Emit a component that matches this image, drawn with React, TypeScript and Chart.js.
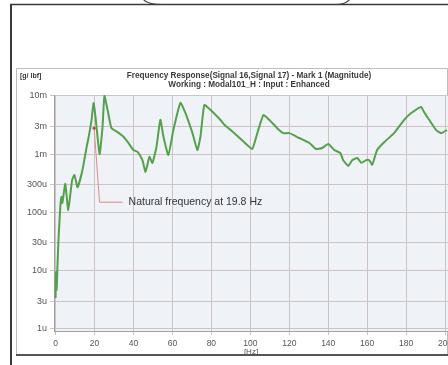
import React, { useEffect, useRef } from "react";
import { Chart, registerables } from "chart.js";

Chart.register(...registerables);

// ---------- data ----------
const freqHz = [
  0.0, 0.3, 0.6, 0.9, 1.5, 2.0, 2.5, 3.0, 3.5, 5.0, 6.5, 8.5, 9.7, 11.3, 13.8,
  15.9, 16.9, 18.5, 19.5, 20.5, 22.6, 24.1, 25.1, 26.7, 28.7, 31.8, 34.9, 37.4,
  40.0, 42.1, 44.6, 46.2, 48.2, 49.7, 51.8, 53.8, 55.4, 57.9, 60.5, 64.1, 66.7,
  70.3, 72.8, 74.4, 76.4, 79.5, 84.6, 86.7, 91.8, 96.9, 101.0, 103.6, 106.7,
  109.7, 113.8, 116.9, 120.0, 125.1, 130.3, 133.8, 136.9, 140.0, 143.1, 146.2,
  147.7, 150.3, 152.3, 154.9, 157.0, 159.5, 161.0, 162.6, 165.1, 168.7, 173.8,
  179.0, 182.6, 187.7, 189.2, 191.8, 195.4, 198.0, 201.0,
];
const magnitude = [
  3.4e-6, 9.5e-6, 4.7e-6, 1.0e-5, 3.4e-5, 6.9e-5, 1.35e-4, 1.85e-4, 1.45e-4,
  3.1e-4, 1.1e-4, 3.6e-4, 4.4e-4, 2.7e-4, 5.3e-4, 1.3e-3, 1.9e-3, 3.9e-3,
  7.6e-3, 4.4e-3, 1.0e-3, 2.9e-3, 1.0e-2, 5.8e-3, 2.8e-3, 2.4e-3, 2.0e-3,
  1.56e-3, 1.18e-3, 1.1e-3, 7.9e-4, 5.0e-4, 9.0e-4, 7.1e-4, 1.33e-3, 3.9e-3,
  2.0e-3, 9.7e-4, 2.6e-3, 7.6e-3, 5.1e-3, 2.3e-3, 1.18e-3, 2.0e-3, 7.0e-3,
  5.8e-3, 3.9e-3, 3.2e-3, 2.3e-3, 1.6e-3, 1.23e-3, 2.3e-3, 4.7e-3, 3.9e-3,
  2.8e-3, 2.3e-3, 2.3e-3, 1.9e-3, 1.56e-3, 1.23e-3, 1.28e-3, 1.5e-3, 1.18e-3,
  1.05e-3, 7.9e-4, 6.3e-4, 7.9e-4, 8.6e-4, 7.1e-4, 7.9e-4, 7.9e-4, 6.6e-4,
  1.18e-3, 1.6e-3, 2.3e-3, 3.9e-3, 5.1e-3, 6.5e-3, 5.3e-3, 3.9e-3, 2.6e-3,
  2.3e-3, 2.6e-3,
];
const xTickValues = [0, 20, 40, 60, 80, 100, 120, 140, 160, 180, 200];
const yTickValues = [1e-6, 3e-6, 1e-5, 3e-5, 1e-4, 3e-4, 1e-3, 3e-3, 1e-2];
const yTickLabels = ["1u", "3u", "10u", "30u", "100u", "300u", "1m", "3m", "10m"];
const titleLines = [
  "Frequency Response(Signal 16,Signal 17) - Mark 1 (Magnitude)",
  "Working : Modal101_H : Input : Enhanced",
];
const yUnit = "[g/ lbf]";
const xUnit = "[Hz]";
const annotationText = "Natural frequency at 19.8 Hz";
const markerFreq = 19.8;
const markerMag = 2.8e-3;
const elbowFreq = 22.6;
const elbowMag = 1.5e-4;
const leaderEndFreq = 34.4;

const FONT = "'Liberation Sans', Arial, sans-serif";

const framePlugin = {
  id: "frame",
  beforeDraw(chart: any) {
    const { ctx, chartArea } = chart;
    const W = chart.width;
    const H = chart.height;
    ctx.save();
    ctx.fillStyle = "#ffffff";
    ctx.fillRect(0, 0, W, H);
    // bubble bottom at top
    ctx.strokeStyle = "#3a3a3a";
    ctx.lineWidth = 1.2;
    ctx.beginPath();
    ctx.moveTo(143, -1);
    ctx.quadraticCurveTo(147, 4.5, 162, 4.5);
    ctx.lineTo(336, 4.5);
    ctx.quadraticCurveTo(346, 4.5, 350, -1);
    ctx.stroke();
    // top line
    ctx.lineWidth = 1.6;
    ctx.beginPath();
    ctx.moveTo(10, 4.5);
    ctx.lineTo(W, 4.5);
    ctx.stroke();
    // left line
    ctx.lineWidth = 2;
    ctx.beginPath();
    ctx.moveTo(11, 4);
    ctx.lineTo(11, H);
    ctx.stroke();
    // inner box
    ctx.strokeStyle = "#bdbdbd";
    ctx.lineWidth = 1;
    ctx.beginPath();
    ctx.moveTo(16.5, 355);
    ctx.lineTo(16.5, 68.5);
    ctx.lineTo(447.5, 68.5);
    ctx.lineTo(447.5, 355);
    ctx.stroke();
    ctx.strokeStyle = "#555555";
    ctx.lineWidth = 2;
    ctx.beginPath();
    ctx.moveTo(16, 355);
    ctx.lineTo(W, 355);
    ctx.stroke();
    // plot background
    ctx.fillStyle = "#eff3f7";
    ctx.fillRect(
      chartArea.left,
      chartArea.top,
      chartArea.right - chartArea.left,
      chartArea.bottom - chartArea.top
    );
    ctx.restore();
  },
  afterDraw(chart: any) {
    const { ctx, chartArea, scales } = chart;
    const xs = scales.x;
    const ys = scales.y;
    ctx.save();
    // titles
    ctx.fillStyle = "#3a3a3a";
    ctx.textAlign = "center";
    ctx.textBaseline = "middle";
    ctx.font = `bold 8.2px ${FONT}`;
    const cx = (chartArea.left + chartArea.right) / 2 - 2;
    ctx.fillText(titleLines[0], cx, 76);
    ctx.fillText(titleLines[1], cx, 84.5);
    ctx.textAlign = "left";
    ctx.font = `bold 7px ${FONT}`;
    ctx.fillText(yUnit, 20, 76);
    // annotation
    const mx = xs.getPixelForValue(markerFreq);
    const my = ys.getPixelForValue(markerMag);
    const ex = xs.getPixelForValue(elbowFreq);
    const ey = ys.getPixelForValue(elbowMag);
    const lx = xs.getPixelForValue(leaderEndFreq);
    ctx.strokeStyle = "#e08a8a";
    ctx.lineWidth = 1;
    ctx.beginPath();
    ctx.moveTo(mx, my);
    ctx.lineTo(ex, ey);
    ctx.lineTo(lx, ey);
    ctx.stroke();
    ctx.fillStyle = "#d04040";
    ctx.beginPath();
    ctx.arc(mx, my, 1.6, 0, Math.PI * 2);
    ctx.fill();
    ctx.fillStyle = "#333333";
    ctx.font = `10.5px ${FONT}`;
    ctx.textBaseline = "middle";
    ctx.fillText(annotationText, lx + 6, ey);
    ctx.restore();
  },
};

function yLabel(v: number): string {
  const i = yTickValues.findIndex(
    (t) => Math.abs(Math.log10(t) - Math.log10(v)) < 1e-6
  );
  return i >= 0 ? yTickLabels[i] : "";
}

export default function App() {
  const ref = useRef<HTMLCanvasElement | null>(null);

  useEffect(() => {
    if (!ref.current) return;
    const chart = new Chart(ref.current, {
      type: "line",
      data: {
        datasets: [
          {
            data: freqHz.map((f, i) => ({ x: f, y: magnitude[i] })),
            borderColor: "#55a04c",
            borderWidth: 2,
            pointRadius: 0,
            tension: 0.15,
            fill: false,
          },
        ],
      },
      options: {
        animation: false,
        responsive: false,
        devicePixelRatio: 1,
        layout: { padding: { top: 95, left: 0, right: 0, bottom: 0 } },
        plugins: {
          legend: { display: false },
          title: { display: false },
          tooltip: { enabled: false },
        },
        scales: {
          x: {
            type: "linear",
            min: -0.8,
            max: 201.5,
            afterBuildTicks: (s: any) => {
              s.ticks = xTickValues.map((v) => ({ value: v }));
            },
            afterFit: (s: any) => {
              s.height = 34;
              s.paddingLeft = 0;
              s.paddingRight = 0;
            },
            ticks: {
              color: "#555555",
              font: { family: FONT, size: 8.5 },
              padding: 4,
              maxRotation: 0,
              autoSkip: false,
            },
            grid: {
              color: "#cdc3c3",
              lineWidth: 1,
              tickLength: 4,
              drawTicks: true,
            },
            border: { display: true, color: "#a0a0a0" },
            title: {
              display: true,
              text: xUnit,
              color: "#555555",
              font: { family: FONT, size: 8 },
              padding: { top: 0, bottom: 8 },
            },
          },
          y: {
            type: "logarithmic",
            min: 0.92e-6,
            max: 0.0104,
            afterBuildTicks: (s: any) => {
              s.ticks = yTickValues.map((v) => ({ value: v, major: true }));
            },
            afterFit: (s: any) => {
              s.width = 54;
              s.paddingTop = 0;
              s.paddingBottom = 0;
            },
            ticks: {
              color: "#555555",
              font: { family: FONT, size: 9 },
              padding: 3,
              autoSkip: false,
              callback: (v: any) => yLabel(Number(v)),
            },
            grid: {
              color: "#cdc3c3",
              lineWidth: 1,
              tickLength: 4,
              drawTicks: true,
            },
            border: { display: true, color: "#a0a0a0" },
          },
        },
      },
      plugins: [framePlugin],
    });
    return () => chart.destroy();
  }, []);

  return (
    <div style={{ position: "fixed", left: 0, top: 0, width: 448, height: 365 }}>
      <canvas ref={ref} width={448} height={365} style={{ display: "block" }} />
    </div>
  );
}
